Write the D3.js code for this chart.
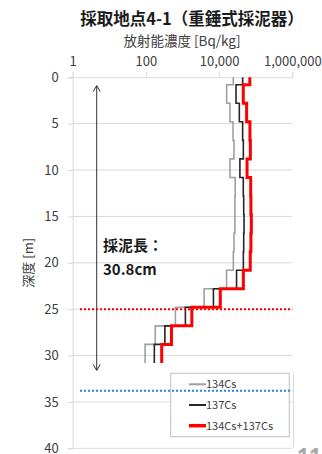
<!DOCTYPE html>
<html>
<head>
<meta charset="utf-8">
<script src="https://cdn.jsdelivr.net/npm/d3@7"></script>
<style>
  html, body { margin: 0; padding: 0; background: #fff; }
  svg { display: block; font-family: "Noto Sans CJK JP", "Noto Sans", sans-serif; }
</style>
</head>
<body>
<svg id="chart" width="322" height="454"></svg>
<script>
// Layer boundaries of the sediment core (depth, top to bottom)
const depthBounds = [0, 0.8, 2.8, 4.8, 6.8, 8.8, 10.8, 12.8, 14.8, 16.8, 18.8, 20.8, 22.8, 24.8, 26.8, 28.8, 30.8];

// Activity concentration per layer [Bq/kg]
const cs134 = [24400, 16100, 19800, 24000, 25500, 19800, 27500, 27000, 27000, 25500, 24500, 16000, 3900, 640, 180, 95];
const cs137 = [44000, 29000, 35700, 44000, 46000, 37000, 45800, 47000, 48000, 47000, 46000, 30000, 7000, 1200, 330, 170];
const csTotal = [69000, 45800, 56500, 69500, 71500, 58000, 73000, 74000, 76000, 74000, 71000, 46000, 10800, 1800, 500, 270];

const xTicks = [1, 100, 10000, 1000000];
const xTickLabels = ["1", "100", "10,000", "1,000,000"];
const yTicks = [0, 5, 10, 15, 20, 25, 30, 35, 40];

const seriesNames = ["134Cs", "137Cs", "134Cs+137Cs"];
const seriesColors = ["#a0a0a0", "#262626", "#ff0000"];
const seriesWidths = [1.6, 1.6, 3];

const coreLengthLabel = ["採泥長：", "30.8cm"];
const redLineDepth = 25;
const blueLineDepth = 33.8;
const arrowDepths = [0.9, 31.6];

const svg = d3.select("#chart");
const x = d3.scaleLog().domain([1, 1e6]).range([72.7, 292.3]);
const y = d3.scaleLinear().domain([0, 40]).range([77.3, 448.3]);

// Title and axis titles
svg.append("text").attr("x", 192).attr("y", 25).attr("text-anchor", "middle")
  .attr("font-size", 16.5).attr("font-weight", "bold").attr("fill", "#1a1a1a")
  .text("採取地点4-1（重錘式採泥器）");
svg.append("text").attr("x", 182).attr("y", 46).attr("text-anchor", "middle")
  .attr("font-size", 13.5).attr("fill", "#404040")
  .text("放射能濃度 [Bq/kg]");
svg.append("text").attr("transform", `translate(33,${(y(0) + y(40)) / 2}) rotate(-90)`)
  .attr("text-anchor", "middle").attr("font-size", 13).attr("fill", "#404040")
  .text("深度 [m]");

// Horizontal gridlines
svg.append("g").selectAll("line").data(yTicks.filter(d => d > 0)).join("line")
  .attr("x1", x.range()[0]).attr("x2", x.range()[1])
  .attr("y1", d => y(d)).attr("y2", d => y(d))
  .attr("stroke", "#d9d9d9").attr("stroke-width", 1);

// Top axis (log scale)
const xAxis = d3.axisTop(x).tickValues(xTicks)
  .tickFormat((d, i) => xTickLabels[i]).tickSize(5).tickPadding(6);
const gx = svg.append("g").attr("transform", `translate(0,${y(0)})`).call(xAxis);
gx.select(".domain").attr("stroke", "#d9d9d9");
gx.selectAll(".tick line").attr("stroke", "#d9d9d9");
gx.selectAll("text").attr("font-size", 13).attr("fill", "#404040")
  .attr("font-family", "\"Noto Sans CJK JP\", sans-serif");

// Left axis (depth)
const yAxis = d3.axisLeft(y).tickValues(yTicks).tickSize(5).tickPadding(9);
const gy = svg.append("g").attr("transform", `translate(${x.range()[0]},0)`).call(yAxis);
gy.select(".domain").attr("stroke", "#d9d9d9");
gy.selectAll(".tick line").attr("stroke", "#d9d9d9");
gy.selectAll("text").attr("font-size", 13).attr("fill", "#404040")
  .attr("font-family", "\"Noto Sans CJK JP\", sans-serif");

// Step profiles: each layer is a vertical segment spanning its depth range
function stepPoints(values) {
  const pts = [];
  values.forEach((v, i) => {
    pts.push([v, depthBounds[i]]);
    pts.push([v, depthBounds[i + 1]]);
  });
  return pts;
}
const line = d3.line().x(d => x(d[0])).y(d => y(d[1]));
[cs134, cs137, csTotal].forEach((vals, i) => {
  svg.append("path").datum(stepPoints(vals))
    .attr("d", line).attr("fill", "none")
    .attr("stroke", seriesColors[i]).attr("stroke-width", seriesWidths[i])
    .attr("stroke-linejoin", "miter");
});

// Core length arrow
const ax = 96.7;
const [aTop, aBot] = arrowDepths.map(d => y(d));
const arrow = svg.append("g").attr("stroke", "#333").attr("stroke-width", 1).attr("fill", "none");
arrow.append("line").attr("x1", ax).attr("x2", ax).attr("y1", aTop).attr("y2", aBot);
arrow.append("path").attr("d", `M${ax - 3.5},${aTop + 6}L${ax},${aTop}L${ax + 3.5},${aTop + 6}`);
arrow.append("path").attr("d", `M${ax - 3.5},${aBot - 6}L${ax},${aBot}L${ax + 3.5},${aBot - 6}`);

svg.append("text").attr("x", 103).attr("y", 251)
  .attr("font-size", 15).attr("font-weight", "bold").attr("fill", "#1a1a1a")
  .text(coreLengthLabel[0]);
svg.append("text").attr("x", 103).attr("y", 275)
  .attr("font-size", 15).attr("font-weight", "bold").attr("fill", "#1a1a1a")
  .text(coreLengthLabel[1]);

// Red dotted reference line
svg.append("line").attr("x1", 80).attr("x2", x.range()[1])
  .attr("y1", y(redLineDepth)).attr("y2", y(redLineDepth))
  .attr("stroke", "#ff0000").attr("stroke-width", 2).attr("stroke-dasharray", "2,2");

// Legend
const lg = svg.append("g");
lg.append("rect").attr("x", 170.7).attr("y", 373.3).attr("width", 118.6).attr("height", 63.4)
  .attr("fill", "#fff").attr("stroke", "#bfbfbf").attr("stroke-width", 1);
const legendRows = [384.3, 405, 425.7];
seriesNames.forEach((name, i) => {
  lg.append("line").attr("x1", 189).attr("x2", 206)
    .attr("y1", legendRows[i]).attr("y2", legendRows[i])
    .attr("stroke", seriesColors[i]).attr("stroke-width", i === 2 ? 3.5 : 2);
  lg.append("text").attr("x", 206).attr("y", legendRows[i] + 4)
    .attr("font-size", 11).attr("fill", "#404040").text(name);
});

// Blue dotted reference line
svg.append("line").attr("x1", 80).attr("x2", x.range()[1])
  .attr("y1", y(blueLineDepth)).attr("y2", y(blueLineDepth))
  .attr("stroke", "#2c7fd6").attr("stroke-width", 2).attr("stroke-dasharray", "2,2");

// Frame edge on the right, lower part
svg.append("line").attr("x1", 293.5).attr("x2", 293.5).attr("y1", 372).attr("y2", 447)
  .attr("stroke", "#d9d9d9").attr("stroke-width", 1);

// Page number
svg.append("text").attr("x", 297).attr("y", 463)
  .attr("font-size", 21).attr("font-weight", "bold").attr("fill", "#a6a6a6")
  .attr("font-family", "\"Noto Sans\", sans-serif").text("11");
</script>
</body>
</html>
